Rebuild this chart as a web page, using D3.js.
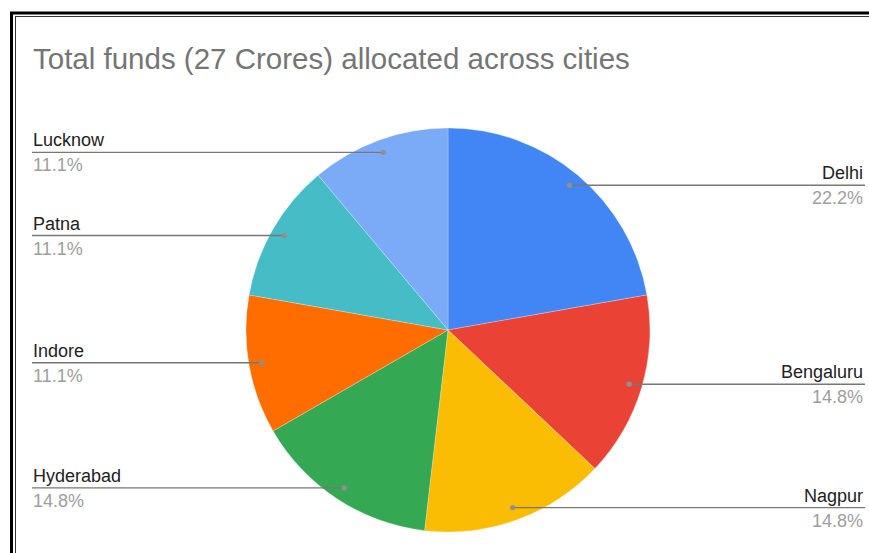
<!DOCTYPE html>
<html>
<head>
<meta charset="utf-8">
<script src="https://cdn.jsdelivr.net/npm/d3@7"></script>
<style>
  html, body { margin: 0; padding: 0; background: #fff; }
  svg { display: block; font-family: Arial, "Liberation Sans", sans-serif; }
</style>
</head>
<body>
<svg id="chart"></svg>
<script>
// City allocations in crores (27 total)
const cities = ["Delhi", "Bengaluru", "Nagpur", "Hyderabad", "Indore", "Patna", "Lucknow"];
const funds = [6, 4, 4, 4, 3, 3, 3];
const colors = ["#4285f4", "#ea4335", "#fbbc04", "#34a853", "#ff6d01", "#46bdc6", "#7baaf7"];

const width = 869, height = 553;
const svg = d3.select("#chart").attr("width", width).attr("height", height);

// frame (runs off the right and bottom edges)
svg.append("rect")
    .attr("x", 11.5).attr("y", 13)
    .attr("width", 900).attr("height", 600)
    .attr("fill", "none").attr("stroke", "#000").attr("stroke-width", 3);
svg.append("rect")
    .attr("x", 15.5).attr("y", 16.5)
    .attr("width", 900).attr("height", 600)
    .attr("fill", "none").attr("stroke", "#333").attr("stroke-width", 1);

// title
svg.append("text")
    .attr("x", 33).attr("y", 69)
    .attr("fill", "#757575")
    .attr("font-size", "29.5px")
    .text("Total funds (27 Crores) allocated across cities");

const cx = 448, cy = 330, radius = 202;
const total = d3.sum(funds);
const data = cities.map((c, i) => ({ city: c, value: funds[i], color: colors[i] }));

const pie = d3.pie().value(d => d.value).sort(null);
const arcs = pie(data);
const arc = d3.arc().innerRadius(0).outerRadius(radius);
const dotArc = d3.arc().innerRadius(189).outerRadius(189);

const g = svg.append("g").attr("transform", `translate(${cx},${cy})`);

g.selectAll("path.slice")
    .data(arcs)
    .join("path")
    .attr("class", "slice")
    .attr("d", arc)
    .attr("fill", d => d.data.color)
    .attr("stroke", "#fff")
    .attr("stroke-opacity", 0.5)
    .attr("stroke-width", 0.5);

// labels with leader lines
const leftX = 33, rightX = 863;
const fmt = d3.format(".1%");

arcs.forEach(d => {
    const [px, py] = dotArc.centroid(d);
    const x = cx + px, y = cy + py;
    const mid = (d.startAngle + d.endAngle) / 2;
    const onRight = mid < Math.PI;
    const endX = onRight ? rightX : leftX;

    svg.append("line")
        .attr("x1", x).attr("y1", y)
        .attr("x2", onRight ? endX + 2 : endX - 1).attr("y2", y)
        .attr("stroke", "#777")
        .attr("stroke-width", 1.4);

    svg.append("circle")
        .attr("cx", x).attr("cy", y).attr("r", 2.6)
        .attr("fill", "#909090");

    svg.append("text")
        .attr("x", endX).attr("y", y - 6)
        .attr("text-anchor", onRight ? "end" : "start")
        .attr("fill", "#222")
        .attr("font-size", "18px")
        .text(d.data.city);

    svg.append("text")
        .attr("x", endX).attr("y", y + 19)
        .attr("text-anchor", onRight ? "end" : "start")
        .attr("fill", "#9e9e9e")
        .attr("font-size", "18px")
        .text(fmt(d.data.value / total));
});
</script>
</body>
</html>
